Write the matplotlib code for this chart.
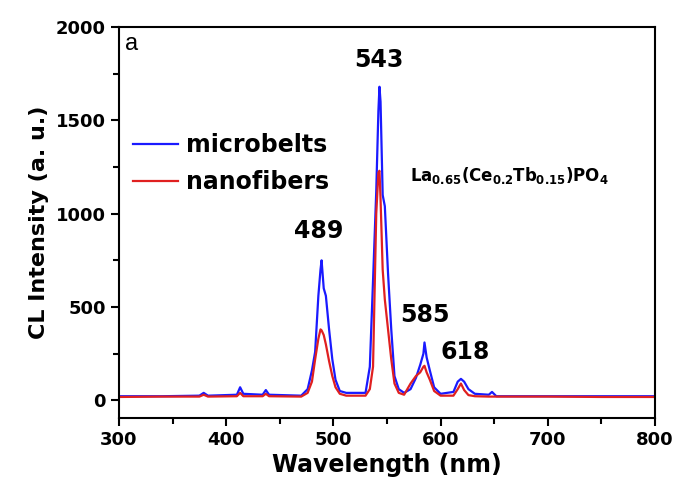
import matplotlib
matplotlib.use('Agg')
import matplotlib.pyplot as plt

# CL spectra
wavelength = [300, 340, 375, 379, 383, 410, 413, 416, 434, 437, 440, 470,
              476, 480, 483, 486, 488, 489, 491, 493, 496, 499, 502, 506,
              512, 530, 534, 537, 540, 542, 543, 544, 546, 548, 551, 554,
              557, 561, 566, 572, 577, 581, 584, 585, 587, 590, 594, 600,
              612, 616, 619, 622, 626, 632, 645, 648, 652, 700, 750, 800]
microbelts = [22, 22, 25, 40, 25, 30, 70, 35, 30, 55, 30, 25,
              60, 160, 260, 560, 700, 750, 600, 560, 380, 220, 110, 50,
              40, 40, 180, 640, 1120, 1550, 1680, 1600, 1100, 1040, 680, 380,
              130, 60, 40, 60, 120, 190, 250, 310, 230, 160, 70, 35,
              45, 100, 115, 100, 60, 35, 30, 45, 22, 22, 22, 22]
nanofibers = [18, 20, 20, 30, 20, 22, 40, 22, 22, 35, 22, 20,
              40, 100, 220, 330, 380, 375, 350, 300, 210, 130, 70, 35,
              25, 25, 60, 180, 1000, 1220, 1230, 1080, 700, 540, 380, 220,
              90, 40, 30, 90, 130, 150, 180, 185, 150, 110, 50, 25,
              25, 60, 90, 55, 28, 22, 20, 20, 20, 20, 18, 18]

peak_labels = ['489', '543', '585', '618']
peak_pos = [(486, 842), (542, 1758), (585, 391), (623, 193)]

plt.rcParams['font.family'] = 'DejaVu Sans'
plt.rcParams['mathtext.fontset'] = 'custom'
plt.rcParams['mathtext.rm'] = 'DejaVu Sans:bold'
plt.rcParams['mathtext.it'] = 'DejaVu Sans:bold'
plt.rcParams['mathtext.bf'] = 'DejaVu Sans:bold'

fig = plt.figure(figsize=(6.78, 4.93), dpi=100)
ax = fig.add_axes([0.1755, 0.152, 0.7905, 0.7932])

ax.plot(wavelength, microbelts, color='#1a1aff', lw=1.6, label='microbelts')
ax.plot(wavelength, nanofibers, color='#e02020', lw=1.6, label='nanofibers')

ax.set_xlim(300, 800)
ax.set_ylim(-95, 2000)
ax.set_xticks(range(300, 801, 100))
ax.set_xticks(range(350, 800, 100), minor=True)
ax.set_yticks(range(0, 2001, 500))
ax.set_yticks(range(250, 2000, 500), minor=True)
ax.tick_params(which='both', direction='out', top=False, right=False,
               width=1.5, labelsize=13)
ax.tick_params(which='major', length=6)
ax.tick_params(which='minor', length=4)
for lbl in ax.get_xticklabels() + ax.get_yticklabels():
    lbl.set_fontweight('bold')
for sp in ax.spines.values():
    sp.set_linewidth(1.5)

ax.set_xlabel('Wavelength (nm)', fontsize=17, fontweight='bold', labelpad=3)
ax.set_ylabel('CL Intensity (a. u.)', fontsize=16, fontweight='bold', labelpad=5)

for txt, (px, py) in zip(peak_labels, peak_pos):
    ax.text(px, py, txt, fontsize=17, fontweight='bold', ha='center', va='bottom')

ax.text(0.012, 0.985, 'a', transform=ax.transAxes, fontsize=17,
        family='Liberation Sans', ha='left', va='top')
ax.text(0.543, 0.62, r'$La_{0.65}(Ce_{0.2}Tb_{0.15})PO_4$', transform=ax.transAxes,
        fontsize=12, ha='left', va='center')

ax.legend(loc='upper left', bbox_to_anchor=(0.009, 0.752), borderaxespad=0,
          frameon=False, prop={'size': 17, 'weight': 'bold'}, handlelength=1.9,
          handletextpad=0.35, labelspacing=0.55)

fig.savefig('out.png', dpi=100)
